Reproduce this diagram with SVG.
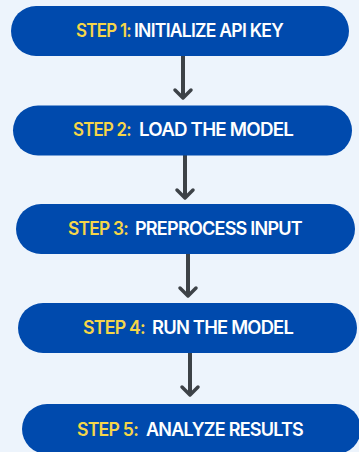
<svg xmlns="http://www.w3.org/2000/svg" width="359" height="452" viewBox="0 0 359 452">
<style>
.box{fill:#004aad;}
.t{font-family:Inter,"Liberation Sans",sans-serif;font-size:18.5px;font-weight:600;letter-spacing:-0.8px;}
.y{fill:#f5d649;}
.w{fill:#ffffff;}
.c{stroke:#3d4247;stroke-width:4;fill:none;}
.h{stroke:#3d4247;stroke-width:3.5;fill:none;stroke-linecap:round;stroke-linejoin:round;}
</style>
<rect width="359" height="452" fill="#edf4fc"/>
<g id="connectors">
<line class="c" x1="183" y1="56" x2="183" y2="98"/>
<polyline class="h" points="175,90 183,98 191,90"/>
<line class="c" x1="185" y1="155" x2="185" y2="198"/>
<polyline class="h" points="177,190 185,198 193,190"/>
<line class="c" x1="188" y1="254" x2="188" y2="296"/>
<polyline class="h" points="180,288 188,296 196,288"/>
<line class="c" x1="190" y1="353" x2="190" y2="395"/>
<polyline class="h" points="182,387 190,395 198,387"/>
</g>
<g id="step1">
<rect class="box" x="11" y="6" width="338" height="50" rx="25"/>
<text class="t y" x="76" y="37" textLength="55" lengthAdjust="spacingAndGlyphs">STEP 1:</text>
<text class="t w" x="134" y="37" textLength="149" lengthAdjust="spacingAndGlyphs">INITIALIZE API KEY</text>
</g>
<g id="step2">
<rect class="box" x="13" y="105.5" width="339" height="50" rx="25"/>
<text class="t y" x="73" y="136" textLength="58" lengthAdjust="spacingAndGlyphs">STEP 2:</text>
<text class="t w" x="139" y="136" textLength="154" lengthAdjust="spacingAndGlyphs">LOAD THE MODEL</text>
</g>
<g id="step3">
<rect class="box" x="16" y="204" width="339" height="50" rx="25"/>
<text class="t y" x="68" y="235" textLength="60" lengthAdjust="spacingAndGlyphs">STEP 3:</text>
<text class="t w" x="135" y="235" textLength="167" lengthAdjust="spacingAndGlyphs">PREPROCESS INPUT</text>
</g>
<g id="step4">
<rect class="box" x="18" y="303" width="339" height="50" rx="25"/>
<text class="t y" x="83" y="334" textLength="62" lengthAdjust="spacingAndGlyphs">STEP 4:</text>
<text class="t w" x="152" y="334" textLength="141" lengthAdjust="spacingAndGlyphs">RUN THE MODEL</text>
</g>
<g id="step5">
<rect class="box" x="22" y="404" width="339" height="50" rx="25"/>
<text class="t y" x="77" y="436" textLength="61" lengthAdjust="spacingAndGlyphs">STEP 5:</text>
<text class="t w" x="146" y="436" textLength="157" lengthAdjust="spacingAndGlyphs">ANALYZE RESULTS</text>
</g>
</svg>
